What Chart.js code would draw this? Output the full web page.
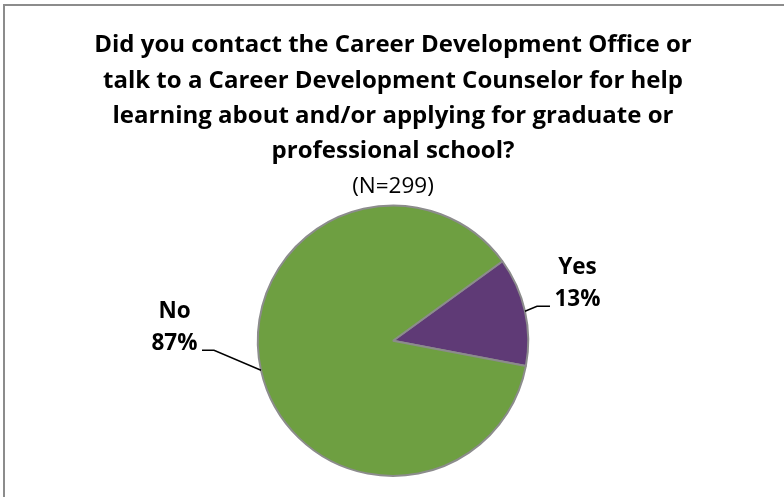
<!DOCTYPE html>
<html>
<head>
<meta charset="utf-8">
<script src="https://cdn.jsdelivr.net/npm/chart.js@4.4.1/dist/chart.umd.min.js"></script>
<style>
  html, body { margin: 0; padding: 0; background: #fff; }
  #wrap { position: relative; width: 784px; height: 497px; overflow: hidden; }
  #frame { position: absolute; left: 3px; top: 4px; right: -10px; bottom: -10px; border-left: 2px solid #8c8c8c; border-top: 2px solid #8c8c8c; }
  canvas { position: absolute; left: 0; top: 0; }
</style>
</head>
<body>
<div id="wrap">
  <div id="frame"></div>
  <canvas id="pie" width="784" height="497"></canvas>
</div>
<script>
const categories = ["Yes", "No"];
const percents = [13, 87];
const sliceColors = ["#5f3a76", "#6e9f41"];
const titleLines = [
  "Did you contact the Career Development Office or",
  "talk to a Career Development Counselor for help",
  "learning about and/or applying for graduate or",
  "professional school?"
];
const subtitleText = "(N=299)";

// leader line shape per slice: elbow offset from the arc edge, then a short flat tail
const leaders = [
  { dx: 12, dy: -5, tail: 13 },
  { dx: -47, dy: -20, tail: -12 }
];

const labelFont = "bold 22.5px 'Open Sans'";

const outsideLabels = {
  id: "outsideLabels",
  afterDatasetsDraw(chart) {
    const ctx = chart.ctx;
    const arcs = chart.getDatasetMeta(0).data;
    ctx.save();
    arcs.forEach((arc, i) => {
      const p = arc.getProps(["x", "y", "startAngle", "endAngle", "outerRadius"], true);
      const mid = (p.startAngle + p.endAngle) / 2;
      const ax = p.x + Math.cos(mid) * p.outerRadius;
      const ay = p.y + Math.sin(mid) * p.outerRadius;
      const l = leaders[i];
      const ex = ax + l.dx, ey = ay + l.dy;
      const tx = ex + l.tail;

      ctx.strokeStyle = "#000";
      ctx.lineWidth = 1.4;
      ctx.beginPath();
      ctx.moveTo(ax, ay);
      ctx.lineTo(ex, ey);
      ctx.lineTo(tx, ey);
      ctx.stroke();

      const cx = tx + Math.sign(l.tail) * 27.5;
      ctx.fillStyle = "#000";
      ctx.font = labelFont;
      ctx.textAlign = "center";
      ctx.textBaseline = "alphabetic";
      ctx.fillText(categories[i], cx, ey - 32.5);
      ctx.fillText(percents[i] + "%", cx, ey);
    });
    ctx.restore();
  }
};

new Chart(document.getElementById("pie").getContext("2d"), {
  type: "pie",
  data: {
    labels: categories,
    datasets: [{
      data: percents,
      backgroundColor: sliceColors,
      borderColor: "#8c8c8c",
      borderWidth: 2
    }]
  },
  options: {
    responsive: false,
    animation: false,
    rotation: 54,
    layout: { padding: { top: 0, left: 2, right: 0, bottom: 20 } },
    plugins: {
      legend: { display: false },
      tooltip: { enabled: false },
      title: {
        display: true,
        text: titleLines,
        color: "#000",
        font: { family: "'Open Sans'", size: 24, weight: "bold", lineHeight: 35.3 / 24 },
        padding: { top: 28, bottom: 0 }
      },
      subtitle: {
        display: true,
        text: subtitleText,
        color: "#000",
        font: { family: "'Open Sans'", size: 22.5, weight: "normal", lineHeight: 35.3 / 22.5 },
        padding: { top: 0, bottom: 0 }
      }
    }
  },
  plugins: [outsideLabels]
});
</script>
</body>
</html>
